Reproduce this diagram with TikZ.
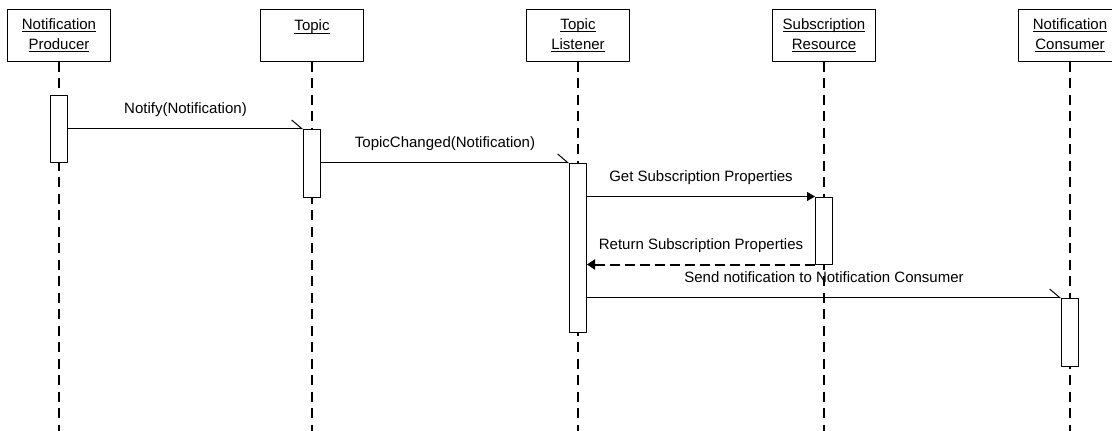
\documentclass[tikz,border=0pt]{standalone}
\usepackage{fontspec}
\setmainfont{Liberation Sans}
\usetikzlibrary{arrows.meta}
\newcommand{\uname}[1]{\setbox0\hbox{#1}\rlap{\rule[-3.2pt]{\wd0}{1pt}}\box0}
\begin{document}
\begin{tikzpicture}[x=1pt, y=-1pt, font=\fontsize{15}{20}\selectfont, line join=round,
	obj/.style={draw, line width=1pt, minimum width=103pt, minimum height=51.5pt, align=center, inner sep=0pt},
	life/.style={line width=2pt, dash pattern=on 10pt off 6.5pt},
	act/.style={draw, fill=white, line width=1pt, minimum width=17pt, inner sep=0pt},
	call/.style={line width=1pt, -{Straight Barb[left, length=10pt, width=17pt]}},
	sync/.style={line width=1pt, -{Triangle[length=8pt, width=9pt]}},
	reply/.style={line width=2pt, dash pattern=on 10pt off 5pt, -{Triangle[length=8pt, width=10pt]}},
	lbl/.style={midway, anchor=base, yshift=15pt}]
	\useasboundingbox (0,0) rectangle (1112,431);
	\coordinate (bot) at (0,431);
	\node[obj] (prod) at (59,35.25) {\uname{Notification}\\\uname{Producer}};
	\node[obj] (topic) at (312,35.25) {\uname{Topic}\\~};
	\node[obj] (lsnr) at (578,35.25) {\uname{Topic}\\\uname{Listener}};
	\node[obj] (sub) at (824,35.25) {\uname{Subscription}\\\uname{Resource}};
	\node[obj] (cons) at (1070,35.25) {\uname{Notification}\\\uname{Consumer}};
	\foreach \o in {prod,topic,lsnr,sub,cons}
		\draw[life] (\o.south) -- (\o.south |- bot);
	\node[act, minimum height=67pt] (aP) at (59,128.5) {};
	\node[act, minimum height=68pt] (aT) at (312,163) {};
	\node[act, minimum height=169pt] (aL) at (578,247.5) {};
	\node[act, minimum height=67pt] (aS) at (824,230.5) {};
	\node[act, minimum height=68pt] (aC) at (1070,332) {};
	\draw[call] (aP.east |- aT.north west) -- node[lbl] {Notify(Notification)} (aT.north west);
	\draw[call] (aT.east |- aL.north west) -- node[lbl] {TopicChanged(Notification)} (aL.north west);
	\draw[sync] (aL.east |- aS.north west) -- node[lbl] {Get Subscription Properties} (aS.north west);
	\draw[reply] (aS.south west) -- node[lbl] {Return Subscription Properties} (aL.east |- aS.south west);
	\draw[call] (aL.east |- aC.north west) -- node[lbl] {Send notification to Notification Consumer} (aC.north west);
\end{tikzpicture}
\end{document}
